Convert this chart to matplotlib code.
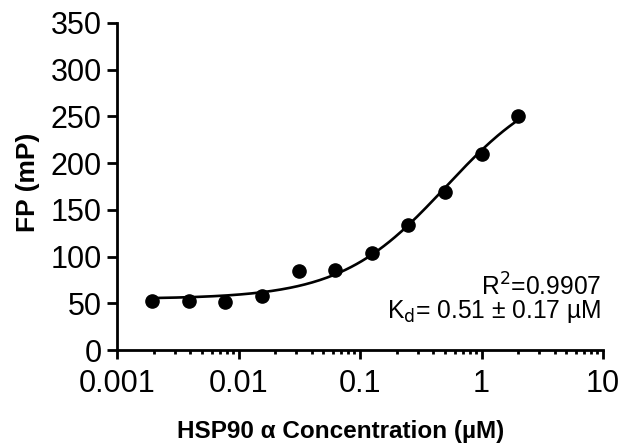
import numpy as np
import matplotlib
matplotlib.use("Agg")
import matplotlib.pyplot as plt
from matplotlib.ticker import LogLocator, FixedLocator, FixedFormatter, NullFormatter

plt.rcParams["font.family"] = ["Liberation Sans", "DejaVu Sans"]

# HSP90 alpha titration (uM) vs fluorescence polarization (mP)
conc = [0.00195, 0.0039, 0.0078, 0.0156, 0.03125, 0.0625, 0.125, 0.25, 0.5, 1.0, 2.0]
fp = [52, 52, 51, 58, 85, 86, 104, 134, 169, 210, 250]

KD = 0.51          # reported fit value (uM)
R2_TEXT = "R$^2$=0.9907"
KD_TEXT = "K$_\\mathrm{d}$= 0.51 \u00b1 0.17 \u00b5M"

x_ticks = [0.001, 0.01, 0.1, 1, 10]
x_labels = ["0.001", "0.01", "0.1", "1", "10"]
y_ticks = [0, 50, 100, 150, 200, 250, 300, 350]

# one-site binding with Kd fixed; bottom and span by least squares
x = np.array(conc); y = np.array(fp)
A = np.vstack([np.ones_like(x), x / (KD + x)]).T
bottom, span = np.linalg.lstsq(A, y, rcond=None)[0]
xs = np.logspace(np.log10(x.min()), np.log10(x.max()), 200)
ys = bottom + span * xs / (KD + xs)

fig = plt.figure(figsize=(6.23, 4.44), dpi=100)
ax = fig.add_axes([117 / 623, 1 - 350 / 444, (603 - 117) / 623, (350 - 23) / 444])

ax.plot(xs, ys, color="black", lw=1.9, zorder=2)
ax.plot(conc, fp, "o", color="black", ms=9.5, zorder=3, clip_on=False)

ax.set_xscale("log")
ax.set_xlim(0.001, 10)
ax.set_ylim(0, 350)
ax.xaxis.set_major_locator(FixedLocator(x_ticks))
ax.xaxis.set_major_formatter(FixedFormatter(x_labels))
ax.xaxis.set_minor_locator(LogLocator(base=10, subs=np.arange(2, 10)))
ax.xaxis.set_minor_formatter(NullFormatter())
ax.set_yticks(y_ticks)

for s in ["top", "right"]:
    ax.spines[s].set_visible(False)
for s in ["left", "bottom"]:
    ax.spines[s].set_linewidth(2.0)

ax.tick_params(axis="both", which="major", width=2.0, labelsize=22)
ax.tick_params(axis="y", which="major", length=7, pad=4)
ax.tick_params(axis="x", which="major", length=6.5, pad=7)
ax.tick_params(axis="x", which="minor", length=3, width=2.0)

ax.set_xlabel("HSP90 \u03b1 Concentration (\u00b5M)", fontsize=17.5, fontweight="bold")
ax.xaxis.label.set_va("baseline")
ax.xaxis.set_label_coords((341 - 117) / 486, -(438 - 350) / 327)
ax.set_ylabel("FP (mP)", fontsize=19, fontweight="bold")
ax.yaxis.label.set_va("center")
ax.yaxis.set_label_coords((28 - 117) / 486, (350 - 182.5) / 327)

ax.text(0.997, 0.165, R2_TEXT, transform=ax.transAxes, ha="right", va="baseline", fontsize=17.7)
ax.text(0.997, 0.097, KD_TEXT, transform=ax.transAxes, ha="right", va="baseline", fontsize=17.7)

fig.savefig("out.png", dpi=100)
